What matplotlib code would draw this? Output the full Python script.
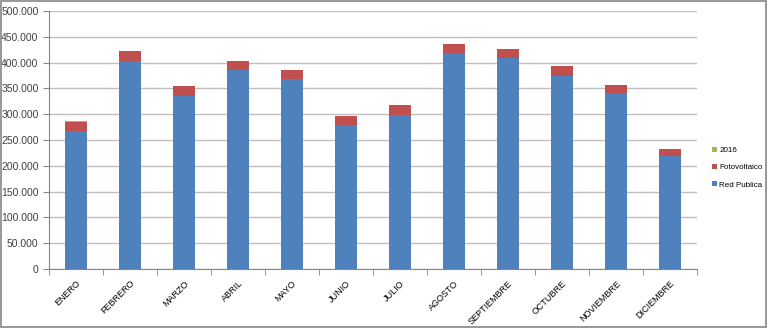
import matplotlib

matplotlib.use("Agg")

import matplotlib.pyplot as plt
import numpy as np
from matplotlib.ticker import FuncFormatter, FixedLocator

meses = ["ENERO", "FEBRERO", "MARZO", "ABRIL", "MAYO", "JUNIO", "JULIO",
         "AGOSTO", "SEPTIEMBRE", "OCTUBRE", "NOVIEMBRE", "DICIEMBRE"]
red_publica = [267400, 403100, 335300, 386300, 368200, 278400, 298500,
               418000, 409500, 374700, 340500, 219600]
fotovoltaico = [18100, 19400, 18700, 16200, 18100, 18700, 19300,
                18000, 17500, 18700, 16100, 13600]
serie_2016 = [1500, 0, 0, 0, 0, 0, 0, 0, 0, 0, 0, 0]

BLUE = "#4F81BD"
RED = "#C0504D"
GREEN = "#9BBB59"

plt.rcParams["font.family"] = ["Liberation Sans", "DejaVu Sans"]

fig = plt.figure(figsize=(7.68, 3.28), dpi=100)
fig.patch.set_facecolor("white")
ax = fig.add_axes([49 / 768, 59 / 328, 648 / 768, 258 / 328])

x = np.arange(len(meses))
w = 0.39
b1 = ax.bar(x, red_publica, w, color=BLUE, label="Red Publica", zorder=3)
b2 = ax.bar(x, fotovoltaico, w, bottom=red_publica, color=RED,
            label="Fotovoltaico", zorder=3)
bottom2 = np.array(red_publica) + np.array(fotovoltaico)
b3 = ax.bar(x, serie_2016, w, bottom=bottom2, color=GREEN, label="2016", zorder=3)

ax.set_xlim(-0.5, len(meses) - 0.5)
ax.set_ylim(0, 500000)
ax.set_yticks(np.arange(0, 500001, 50000))
ax.yaxis.set_major_formatter(FuncFormatter(lambda v, p: f"{int(v):,}".replace(",", ".")))
ax.grid(axis="y", color="#BFBFBF", linewidth=1, zorder=0)

# category labels at centres, tick marks at boundaries
ax.set_xticks(x)
ax.set_xticklabels(meses, rotation=45, ha="right", rotation_mode="anchor")
ax.xaxis.set_minor_locator(FixedLocator(np.arange(-0.5, len(meses), 1)))
ax.tick_params(axis="x", which="major", length=0, labelsize=6.5, pad=7, colors="#000000")
ax.tick_params(axis="x", which="minor", length=4, color="#868686", direction="out")
ax.tick_params(axis="y", length=4, color="#868686", labelsize=7.5, colors="#000000")
for lbl in ax.get_yticklabels():
    lbl.set_color("#404040")

for side in ["top", "right"]:
    ax.spines[side].set_visible(False)
for side in ["left", "bottom"]:
    ax.spines[side].set_color("#868686")

handles = [b3, b2, b1]
leg = fig.legend(handles, ["2016", "Fotovoltaico", "Red Publica"],
                 loc="upper left", bbox_to_anchor=(708 / 768, 1 - 143 / 328),
                 frameon=False, fontsize=5.8, handlelength=0.6, handleheight=0.6,
                 handletextpad=0.3, labelspacing=1.2, borderpad=0)

fig.add_artist(plt.Rectangle((0.001, 0.002), 0.997, 0.995, transform=fig.transFigure,
                             fill=False, edgecolor="#868686", linewidth=1.2))

fig.savefig("out.png", dpi=100)
